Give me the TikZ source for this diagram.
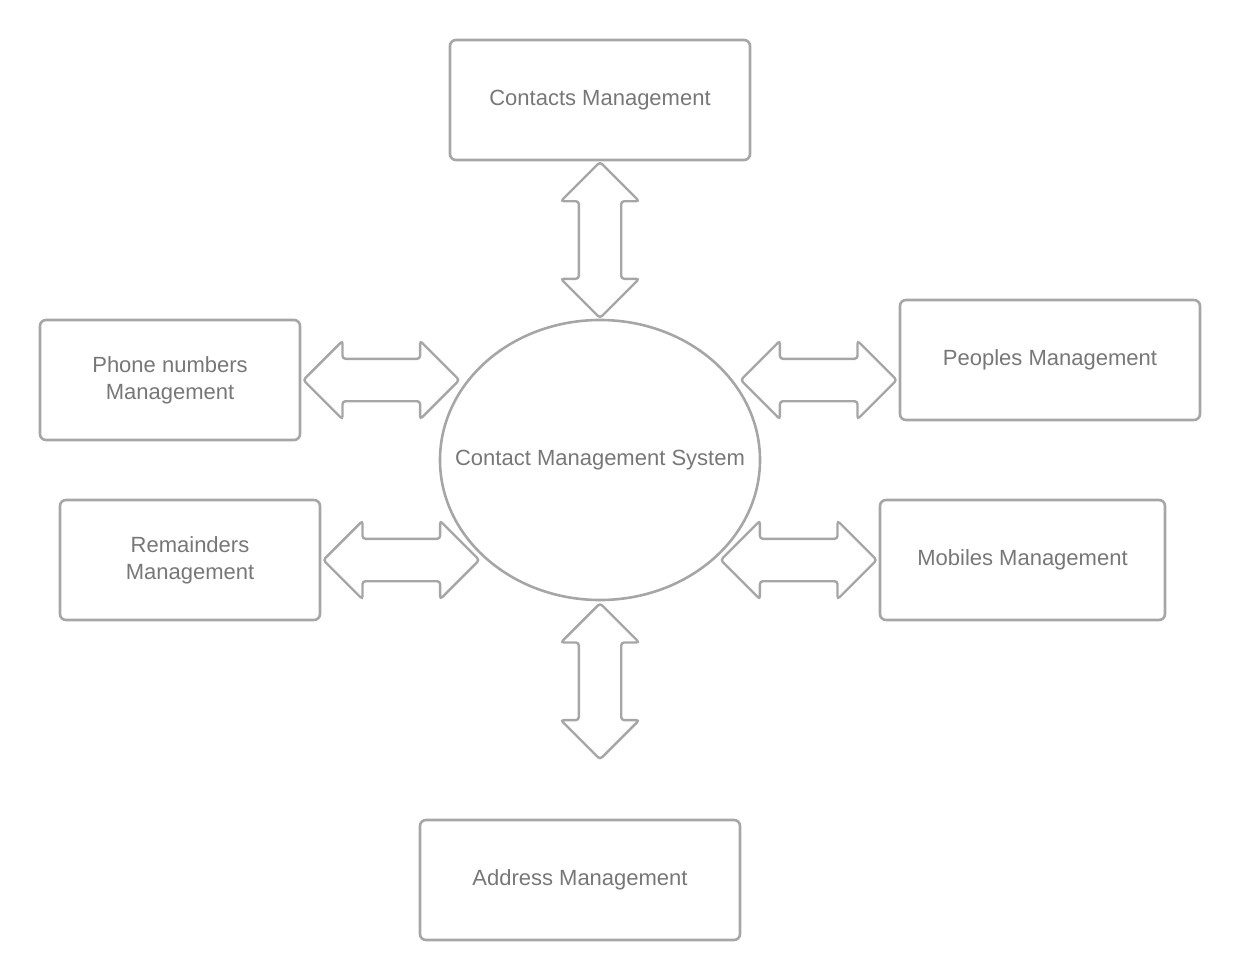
\documentclass[tikz,border=0pt]{standalone}
\usepackage{fontspec}
\setmainfont{Liberation Sans}
\usetikzlibrary{shapes.geometric,shapes.arrows,calc}
\definecolor{linegray}{HTML}{A6A6A6}
\definecolor{textgray}{HTML}{777777}
\begin{document}
\begin{tikzpicture}
    [x=1pt,y=-1pt,
    every node/.style={font=\fontsize{22}{27}\selectfont, text=textgray},
    box/.style={draw=linegray, line width=2.6pt, rounded corners=6pt, align=center,
      inner sep=0pt, minimum height=120pt},
    hub/.style={draw=linegray, line width=2.6pt, ellipse, inner sep=0pt,
      minimum width=320pt, minimum height=280pt},
    link/.style={draw=linegray, line width=2.4pt, double arrow, double arrow head extend=18pt,
      inner xsep=0pt, inner ysep=20pt, minimum height=156pt, rounded corners=3pt}]
    \useasboundingbox (0,0) rectangle (1240,980);
    % boxes
    \node[box, minimum width=300pt] (contacts) at (600,100) {Contacts Management};
    \node[box, minimum width=260pt] (phone) at (170,380) {Phone numbers\\Management};
    \node[box, minimum width=300pt] (peoples) at (1050,360) {Peoples Management};
    \node[box, minimum width=260pt] (remainders) at (190,560) {Remainders\\Management};
    \node[box, minimum width=285pt] (mobiles) at (1022.5,560) {Mobiles Management};
    \node[box, minimum width=320pt] (address) at (580,880) {Address Management};
    \node[hub] (cms) at (600,460) {\makebox[0pt]{Contact Management System}};
    % double arrows
    \node[link, rotate=90] (up) at ($(contacts.south)!0.5!(cms.north)$) {};
    \node[link] (phonelink) at ($(phone.east)+(80,0)$) {};
    \node[link] (peopleslink) at ($(peoples.west)+(-80,20)$) {};
    \node[link] (remlink) at ($(remainders.east)+(80,0)$) {};
    \node[link] (moblink) at ($(mobiles.west)+(-80,0)$) {};
    \node[link, rotate=90] (down) at ($(cms.south)+(0,80)$) {};
\end{tikzpicture}
\end{document}
